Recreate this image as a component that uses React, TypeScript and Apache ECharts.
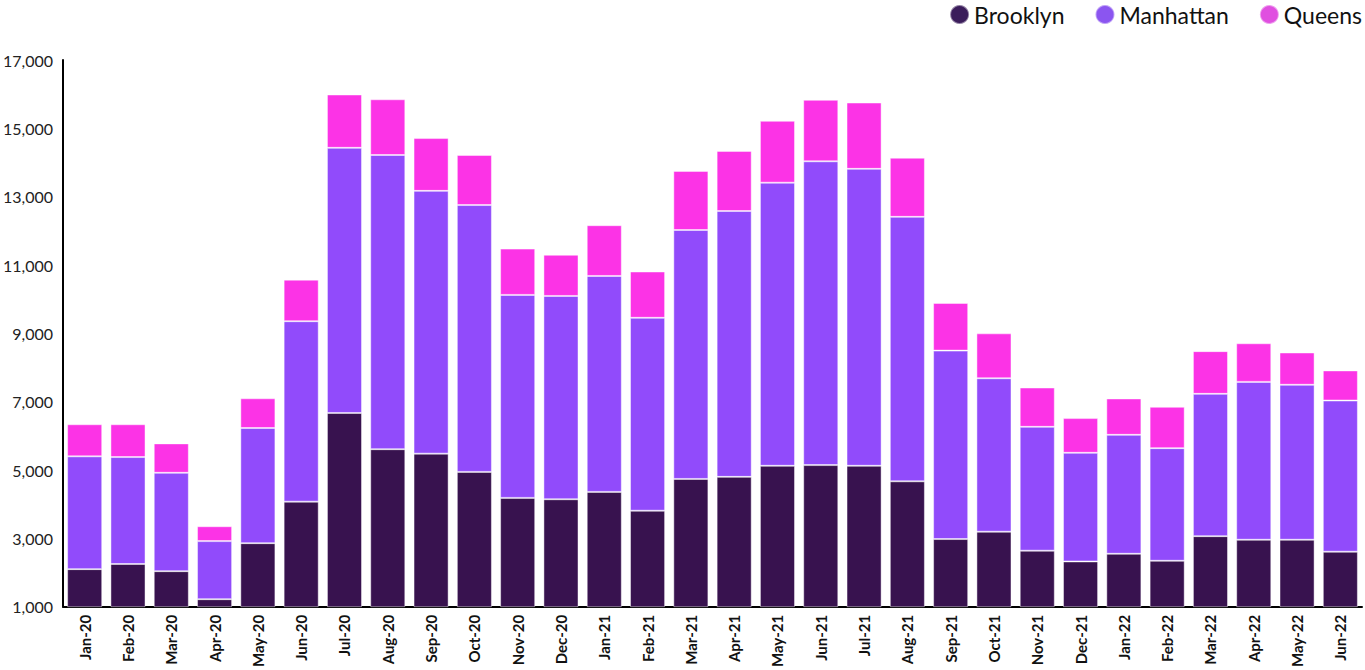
import React, { useEffect, useRef } from "react";
import * as echarts from "echarts";

const months = [
  "Jan-20", "Feb-20", "Mar-20", "Apr-20", "May-20", "Jun-20", "Jul-20", "Aug-20", "Sep-20", "Oct-20",
  "Nov-20", "Dec-20", "Jan-21", "Feb-21", "Mar-21", "Apr-21", "May-21", "Jun-21", "Jul-21", "Aug-21",
  "Sep-21", "Oct-21", "Nov-21", "Dec-21", "Jan-22", "Feb-22", "Mar-22", "Apr-22", "May-22", "Jun-22",
];

const brooklyn = [
  2100, 2250, 2040, 1220, 2860, 4075, 6670, 5610, 5480, 4945,
  4185, 4145, 4360, 3810, 4740, 4800, 5125, 5145, 5125, 4670,
  2980, 3195, 2640, 2325, 2550, 2345, 3065, 2960, 2960, 2610,
];

const manhattan = [
  3300, 3130, 2880, 1700, 3370, 5280, 7760, 8610, 7690, 7810,
  5940, 5950, 6320, 5645, 7285, 7780, 8285, 8890, 8690, 7740,
  5515, 4490, 3625, 3180, 3480, 3295, 4165, 4620, 4535, 4425,
];

const queens = [
  940, 960, 860, 435, 870, 1217, 1560, 1630, 1545, 1465,
  1355, 1205, 1485, 1355, 1730, 1760, 1810, 1800, 1940, 1730,
  1395, 1315, 1150, 1015, 1065, 1210, 1250, 1130, 945, 880,
];

const seriesNames = ["Brooklyn", "Manhattan", "Queens"];
const barColors = ["#38124f", "#914bfb", "#fc33e6"];
const legendColors = ["#3b1d5b", "#8b55f0", "#e04fe0"];

export default function App() {
  const ref = useRef<HTMLDivElement>(null);

  useEffect(() => {
    document.body.style.margin = "0";
    if (!ref.current) return;
    const chart = echarts.init(ref.current, null, { renderer: "svg" });
    const values = [brooklyn, manhattan, queens];
    chart.setOption({
      animation: false,
      backgroundColor: "#ffffff",
      textStyle: { fontFamily: "Lato" },
      legend: {
        right: 3,
        top: 3,
        padding: 0,
        icon: "circle",
        itemWidth: 19,
        itemHeight: 19,
        itemGap: 30,
        textStyle: { fontSize: 23, color: "#111111", fontFamily: "Lato" },
        data: seriesNames.map((n, i) => ({ name: n, itemStyle: { color: legendColors[i] } })),
      },
      grid: { left: 63, right: 3, top: 60, bottom: 63, containLabel: false },
      xAxis: {
        type: "category",
        data: months,
        axisLine: { show: true, lineStyle: { color: "#000000", width: 2 } },
        axisTick: { show: false },
        axisLabel: {
          rotate: 90,
          interval: 0,
          margin: 8,
          fontSize: 15,
          fontWeight: "bold",
          color: "#111111",
          fontFamily: "Lato",
        },
      },
      yAxis: {
        type: "value",
        min: 1000,
        max: 17000,
        interval: 2000,
        splitLine: { show: false },
        axisTick: { show: false },
        axisLine: { show: true, lineStyle: { color: "#000000", width: 2 } },
        axisLabel: {
          margin: 10,
          fontSize: 16,
          color: "#222222",
          fontFamily: "Lato",
          formatter: (v: number) => v.toLocaleString("en-US"),
        },
      },
      series: seriesNames.map((n, i) => ({
        name: n,
        type: "bar",
        stack: "total",
        barCategoryGap: "19%",
        data: values[i],
        itemStyle: {
          color: barColors[i],
          borderColor: "rgba(255,255,255,0.45)",
          borderWidth: 1,
        },
      })),
    });
    return () => chart.dispose();
  }, []);

  return <div ref={ref} style={{ width: 1365, height: 670 }} />;
}
